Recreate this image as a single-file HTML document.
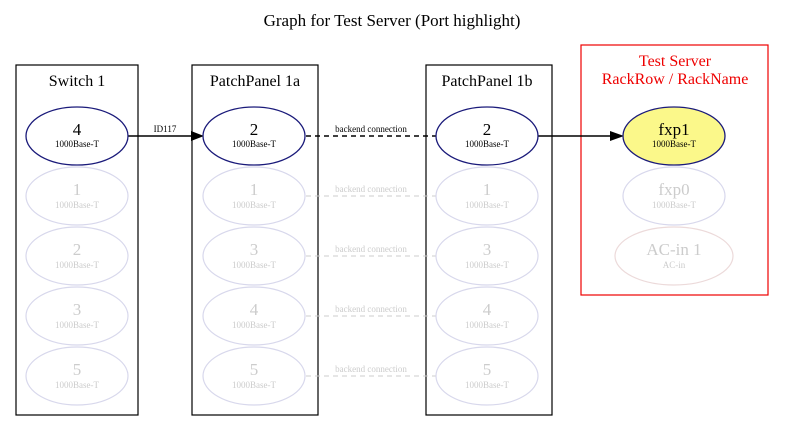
<!DOCTYPE html>
<html><head><meta charset="utf-8"><style>html,body{margin:0;padding:0;background:#fff}svg{display:block}</style></head>
<body>
<svg width="785" height="432" viewBox="0 0 785 432" xmlns="http://www.w3.org/2000/svg" font-family="Liberation Serif, serif">
<rect width="785" height="432" fill="#fff"/>
<text x="392" y="26" font-size="17" text-anchor="middle">Graph for Test Server (Port highlight)</text>

<g fill="none" stroke="#000" stroke-width="1.2">
<rect x="16" y="65" width="122" height="350"/>
<rect x="192" y="65" width="126" height="350"/>
<rect x="426" y="65" width="126" height="350"/>
</g>
<rect x="581" y="45" width="187" height="250" fill="none" stroke="#e00" stroke-width="1.2"/>
<g font-size="16" text-anchor="middle">
<text x="77" y="86">Switch 1</text>
<text x="255" y="86">PatchPanel 1a</text>
<text x="487" y="86">PatchPanel 1b</text>
<text x="675" y="66" fill="#e00">Test Server</text>
<text x="675" y="84" fill="#e00">RackRow / RackName</text>
</g>

<g stroke="#ccc" stroke-dasharray="5,4" stroke-width="1">
<line x1="306" y1="196" x2="436" y2="196"/>
<line x1="306" y1="256" x2="436" y2="256"/>
<line x1="306" y1="316" x2="436" y2="316"/>
<line x1="306" y1="376" x2="436" y2="376"/>
</g>
<g font-size="9" fill="#ccc" text-anchor="middle">
<text x="371" y="192">backend connection</text>
<text x="371" y="252">backend connection</text>
<text x="371" y="312">backend connection</text>
<text x="371" y="372">backend connection</text>
</g>

<line x1="128" y1="136" x2="192" y2="136" stroke="#000" stroke-width="1.5"/>
<polygon points="191,131 204,136 191,141" fill="#000"/>
<text x="165" y="132" font-size="9" text-anchor="middle">ID117</text>
<line x1="306" y1="136" x2="436" y2="136" stroke="#000" stroke-width="1.5" stroke-dasharray="5,4"/>
<text x="371" y="132" font-size="9" text-anchor="middle">backend connection</text>
<line x1="538" y1="136" x2="611" y2="136" stroke="#000" stroke-width="1.5"/>
<polygon points="610,131 624,136 610,141" fill="#000"/>

<g fill="none" stroke="#d8d8ec" stroke-width="1.2">
<ellipse cx="77" cy="196" rx="51" ry="29"/><ellipse cx="77" cy="256" rx="51" ry="29"/><ellipse cx="77" cy="316" rx="51" ry="29"/><ellipse cx="77" cy="376" rx="51" ry="29"/>
<ellipse cx="254" cy="196" rx="51" ry="29"/><ellipse cx="254" cy="256" rx="51" ry="29"/><ellipse cx="254" cy="316" rx="51" ry="29"/><ellipse cx="254" cy="376" rx="51" ry="29"/>
<ellipse cx="487" cy="196" rx="51" ry="29"/><ellipse cx="487" cy="256" rx="51" ry="29"/><ellipse cx="487" cy="316" rx="51" ry="29"/><ellipse cx="487" cy="376" rx="51" ry="29"/>
<ellipse cx="674" cy="196" rx="51" ry="29"/>
</g>
<ellipse cx="674" cy="256" rx="59" ry="29" fill="none" stroke="#ecdada" stroke-width="1.2"/>
<g fill="#ccc" text-anchor="middle">
<g font-size="17">
<text x="77" y="195">1</text><text x="77" y="255">2</text><text x="77" y="315">3</text><text x="77" y="375">5</text>
<text x="254" y="195">1</text><text x="254" y="255">3</text><text x="254" y="315">4</text><text x="254" y="375">5</text>
<text x="487" y="195">1</text><text x="487" y="255">3</text><text x="487" y="315">4</text><text x="487" y="375">5</text>
<text x="674" y="195">fxp0</text><text x="674" y="255">AC-in 1</text>
</g>
<g font-size="9">
<text x="77" y="208">1000Base-T</text><text x="77" y="268">1000Base-T</text><text x="77" y="328">1000Base-T</text><text x="77" y="388">1000Base-T</text>
<text x="254" y="208">1000Base-T</text><text x="254" y="268">1000Base-T</text><text x="254" y="328">1000Base-T</text><text x="254" y="388">1000Base-T</text>
<text x="487" y="208">1000Base-T</text><text x="487" y="268">1000Base-T</text><text x="487" y="328">1000Base-T</text><text x="487" y="388">1000Base-T</text>
<text x="674" y="208">1000Base-T</text><text x="674" y="268">AC-in</text>
</g>
</g>

<g stroke="#1a1a7a" stroke-width="1.3">
<ellipse cx="77" cy="136" rx="51" ry="29" fill="#fff"/>
<ellipse cx="254" cy="136" rx="51" ry="29" fill="#fff"/>
<ellipse cx="487" cy="136" rx="51" ry="29" fill="#fff"/>
<ellipse cx="674" cy="136" rx="51" ry="29" fill="#fbf88a"/>
</g>
<g text-anchor="middle">
<g font-size="17">
<text x="77" y="135">4</text><text x="254" y="135">2</text><text x="487" y="135">2</text><text x="674" y="135">fxp1</text>
</g>
<g font-size="9">
<text x="77" y="147">1000Base-T</text><text x="254" y="147">1000Base-T</text><text x="487" y="147">1000Base-T</text><text x="674" y="147">1000Base-T</text>
</g>
</g>
</svg>
</body></html>
